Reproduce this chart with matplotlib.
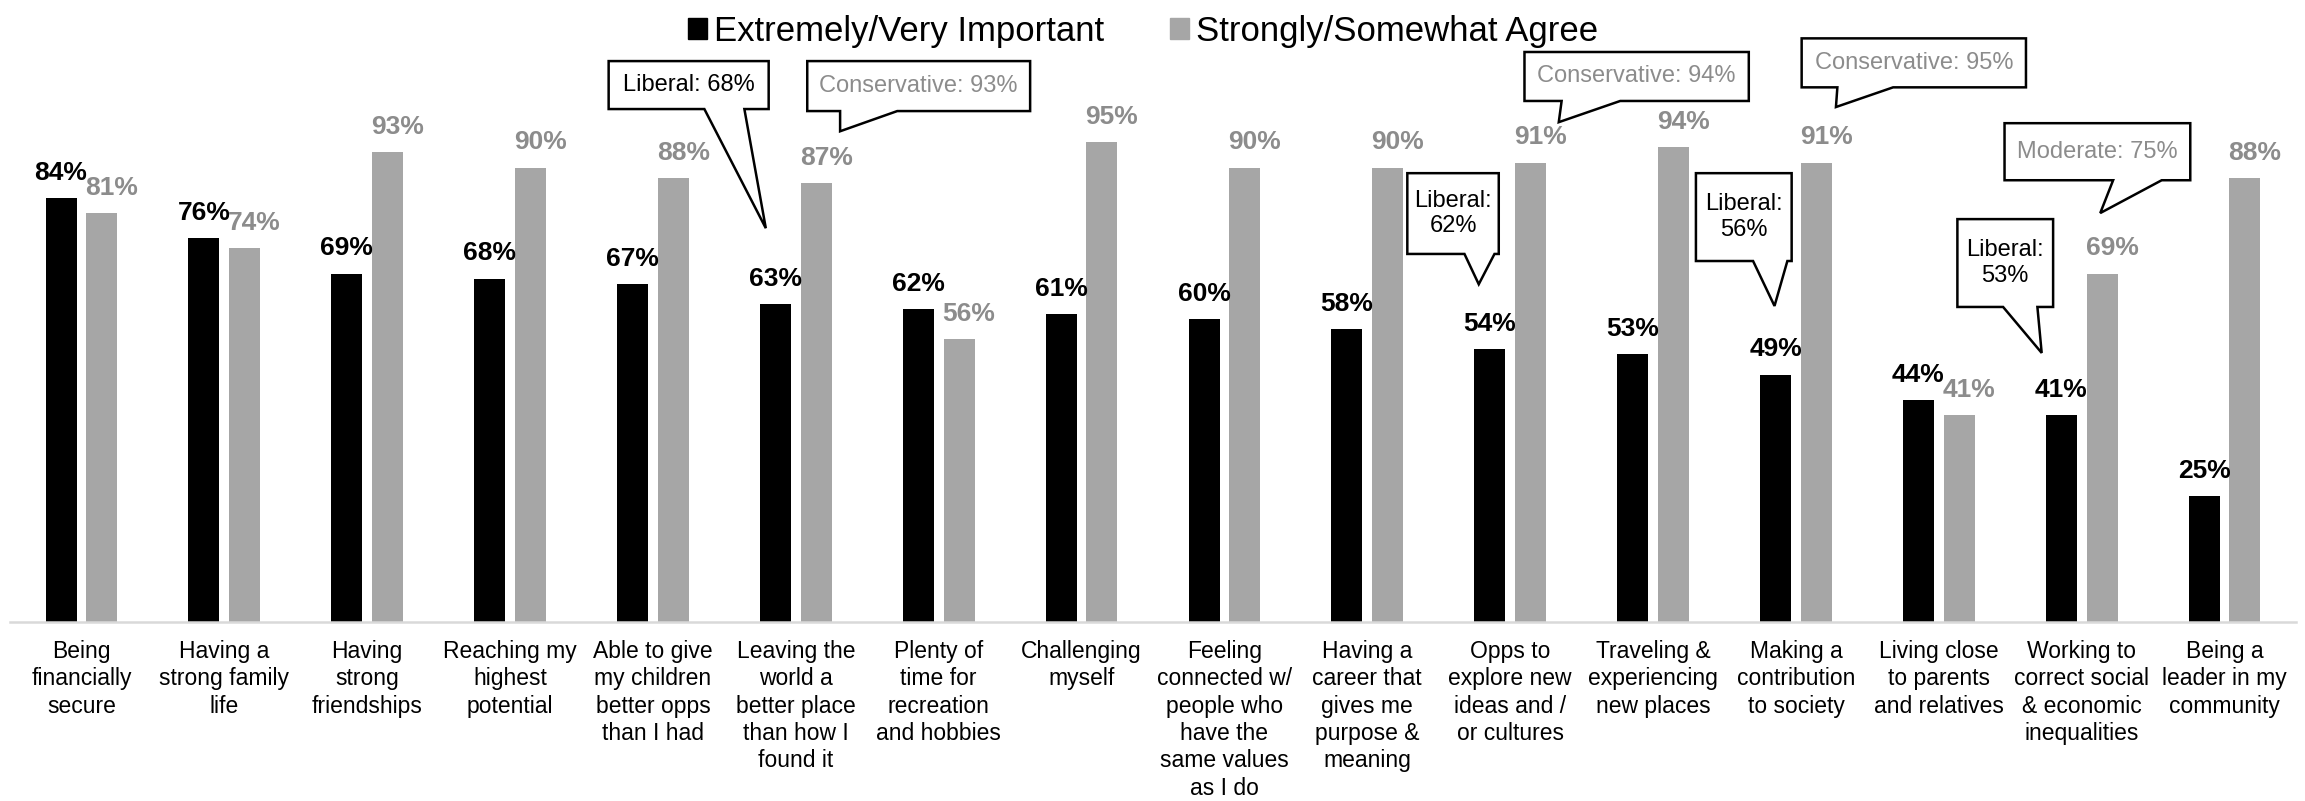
import matplotlib
matplotlib.use('Agg')
import matplotlib.pyplot as plt
from matplotlib.patches import Patch, Polygon

plt.rcParams['font.family'] = ['Liberation Sans', 'DejaVu Sans']

categories = [
    'Being\nfinancially\nsecure',
    'Having a\nstrong family\nlife',
    'Having\nstrong\nfriendships',
    'Reaching my\nhighest\npotential',
    'Able to give\nmy children\nbetter opps\nthan I had',
    'Leaving the\nworld a\nbetter place\nthan how I\nfound it',
    'Plenty of\ntime for\nrecreation\nand hobbies',
    'Challenging\nmyself',
    'Feeling\nconnected w/\npeople who\nhave the\nsame values\nas I do',
    'Having a\ncareer that\ngives me\npurpose &\nmeaning',
    'Opps to\nexplore new\nideas and /\nor cultures',
    'Traveling &\nexperiencing\nnew places',
    'Making a\ncontribution\nto society',
    'Living close\nto parents\nand relatives',
    'Working to\ncorrect social\n& economic\ninequalities',
    'Being a\nleader in my\ncommunity',
]
important = [84, 76, 69, 68, 67, 63, 62, 61, 60, 58, 54, 53, 49, 44, 41, 25]
agree = [81, 74, 93, 90, 88, 87, 56, 95, 90, 90, 91, 94, 91, 41, 69, 88]
series_names = ['Extremely/Very Important', 'Strongly/Somewhat Agree']

callout_texts = ['Liberal: 68%', 'Conservative: 93%', 'Liberal:\n62%',
                 'Conservative: 94%', 'Liberal:\n56%', 'Conservative: 95%',
                 'Liberal:\n53%', 'Moderate: 75%']
callout_grey = [False, True, False, True, False, True, False, True]

BLACK = '#000000'
GREY = '#a6a6a6'
GREY_TXT = '#8c8c8c'

# callout layout: box (x0, x1, y_bottom, y_top), tail base (xa, xb), tip (x, y)
callout_layout = [
    ((3.69, 4.81, 1.016, 1.111), (4.36, 4.64), (4.79, 0.78)),
    ((5.08, 6.64, 1.012, 1.111), (5.31, 5.71), (5.31, 0.972)),
    ((9.28, 9.92, 0.729, 0.889), (9.68, 9.89), (9.78, 0.669)),
    ((10.10, 11.67, 1.032, 1.129), (10.36, 10.77), (10.34, 0.99)),
    ((11.30, 11.97, 0.715, 0.889), (11.70, 11.94), (11.85, 0.626)),
    ((12.04, 13.61, 1.059, 1.156), (12.29, 12.68), (12.28, 1.02)),
    ((13.13, 13.80, 0.624, 0.798), (13.45, 13.69), (13.72, 0.533)),
    ((13.46, 14.76, 0.875, 0.988), (14.22, 14.56), (14.13, 0.81)),
]

W, H = 2305, 801
fig = plt.figure(figsize=(W / 100, H / 100), dpi=100)
ax = fig.add_axes([10 / W, 179 / H, 2286 / W, 622 / H])

x = list(range(len(categories)))
bw = 0.217
off = 0.143
ax.bar([i - off for i in x], [v / 100 for v in important], width=bw, color=BLACK)
ax.bar([i + off for i in x], [v / 100 for v in agree], width=bw, color=GREY)

for i in x:
    ax.annotate(f'{important[i]}%', (i - off, important[i] / 100), xytext=(0, 9.5),
                textcoords='offset points', ha='center', va='bottom',
                fontsize=19, fontweight='bold', color=BLACK)
    ax.annotate(f'{agree[i]}%', (i + off + 0.07, agree[i] / 100), xytext=(0, 9.5),
                textcoords='offset points', ha='center', va='bottom',
                fontsize=19, fontweight='bold', color=GREY_TXT)

ax.set_xlim(-0.5, 15.5)
ax.set_ylim(0, 1.232)
ax.set_yticks([])
ax.set_xticks(x)
ax.set_xticklabels(categories, fontsize=16.5, linespacing=1.24)
ax.tick_params(axis='x', length=0, pad=13)
for s in ['top', 'right', 'left']:
    ax.spines[s].set_visible(False)
ax.spines['bottom'].set_color('#d9d9d9')
ax.spines['bottom'].set_linewidth(1.8)

for txt, grey, (box, base, tip) in zip(callout_texts, callout_grey, callout_layout):
    x0, x1, y0, y1 = box
    verts = [(x0, y1), (x1, y1), (x1, y0), (base[1], y0), tip, (base[0], y0), (x0, y0)]
    ax.add_patch(Polygon(verts, closed=True, facecolor='white', edgecolor='black',
                         linewidth=1.8, clip_on=False, zorder=5))
    ax.text((x0 + x1) / 2, (y0 + y1) / 2, txt, ha='center', va='center',
            fontsize=17, color=GREY_TXT if grey else BLACK, zorder=6,
            linespacing=1.2)

handles = [Patch(color=BLACK), Patch(color=GREY)]
fig.legend(handles, series_names, loc='upper center', bbox_to_anchor=(0.496, 1.02),
           ncol=2, frameon=False, fontsize=25, handlelength=0.55, handleheight=0.55,
           handletextpad=0.2, columnspacing=1.9)

fig.savefig('out.png', dpi=100)
